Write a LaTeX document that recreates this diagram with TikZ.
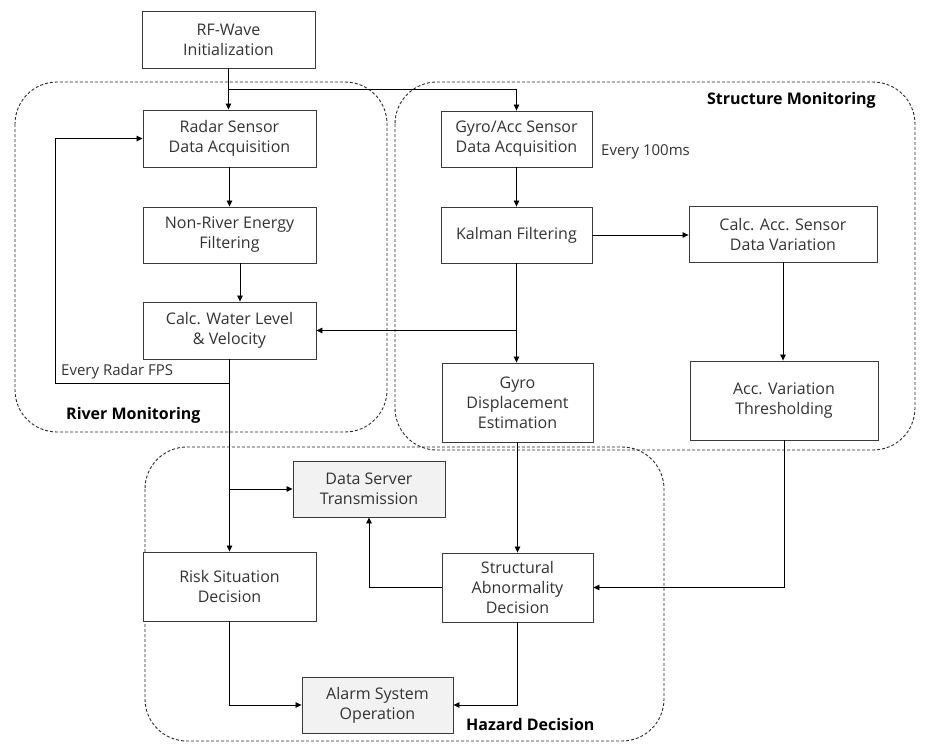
\documentclass[tikz,border=0pt]{standalone}
\usepackage{fontspec}
\setmainfont{Open Sans}
\usetikzlibrary{arrows.meta}
\definecolor{boxline}{HTML}{3A3A3A}
\definecolor{txt}{HTML}{333333}
\definecolor{grayfill}{HTML}{F2F2F2}
\definecolor{grpline}{HTML}{2A2A2A}
\tikzset{
  procbox/.style={draw=boxline, line width=0.9pt, fill=white, align=center, inner sep=0pt,
    text=txt, font=\fontsize{16}{20}\selectfont},
  outbox/.style={procbox, fill=grayfill},
  arr/.style={line width=0.8pt, draw=black, -{Triangle[length=6pt,width=5.5pt]}},
  grp/.style={draw=grpline, line width=0.9pt, dash pattern=on 3pt off 2pt, rounded corners=42pt},
  grplabel/.style={font=\fontsize{16}{18}\selectfont\bfseries, text=black, inner sep=0pt},
  note/.style={font=\fontsize{15}{17}\selectfont, text=txt, inner sep=0pt}
}
\begin{document}
\begin{tikzpicture}[x=1pt,y=-1pt]
\useasboundingbox (0,0) rectangle (930,752);
\fill[white] (0,0) rectangle (930,752);

% group containers
\draw[grp] (15,82) rectangle (387,432);
\draw[grp] (395,82) rectangle (915,450);
\draw[grp] (145,447) rectangle (664,741);

% boxes
\node[procbox, minimum width=173pt, minimum height=57pt] (rf) at (228.5,39.5) {RF-Wave\\Initialization};
\node[procbox, minimum width=173pt, minimum height=57pt] (radar) at (229.5,138.5) {Radar Sensor\\Data Acquisition};
\node[procbox, minimum width=173pt, minimum height=56pt] (nonriver) at (229.5,235) {Non-River Energy\\Filtering};
\node[procbox, minimum width=173pt, minimum height=57pt] (calcw) at (229.5,330.5) {Calc. Water Level\\\& Velocity};
\node[procbox, minimum width=151pt, minimum height=56pt] (gyro) at (516.5,139) {Gyro/Acc Sensor\\Data Acquisition};
\node[procbox, minimum width=151pt, minimum height=56pt] (kalman) at (516.5,235) {Kalman Filtering};
\node[procbox, minimum width=188pt, minimum height=56pt] (calcacc) at (783,234) {Calc. Acc. Sensor\\Data Variation};
\node[procbox, minimum width=151pt, minimum height=79pt] (gyrodisp) at (517.5,402.5) {Gyro\\Displacement\\Estimation};
\node[procbox, minimum width=188pt, minimum height=79pt] (accvar) at (784,400.5) {Acc. Variation\\Thresholding};
\node[outbox, minimum width=152pt, minimum height=56pt] (ds) at (369,489) {Data Server\\Transmission};
\node[procbox, minimum width=173pt, minimum height=69pt] (risk) at (229.5,586.5) {Risk Situation\\Decision};
\node[procbox, minimum width=151pt, minimum height=69pt] (structural) at (517.5,587.5) {Structural\\Abnormality\\Decision};
\node[outbox, minimum width=151pt, minimum height=56pt] (alarm) at (377.5,705) {Alarm System\\Operation};

% labels
\node[note, anchor=west] (lfps) at (61,372) {Every Radar FPS};
\node[note, anchor=west] (l100) at (601,152) {Every 100ms};
\node[grplabel, anchor=west] (lriver) at (66,415) {River Monitoring};
\node[grplabel, anchor=east] (lstruct) at (876,100) {Structure Monitoring};
\node[grplabel, anchor=west] (lhazard) at (466,724) {Hazard Decision};

% junction coordinates
\coordinate (j1) at (rf.south |- 0,89);
\coordinate (fb) at (calcw.south |- 0,383);
\coordinate (fbl) at (55,383);
\coordinate (j2) at (calcw.south |- ds.west);
\coordinate (j3) at (kalman.south |- calcw.east);

% connectors
\draw[arr] (rf.south) -- (rf.south |- radar.north);
\draw[arr] (j1) -| (gyro.north);
\draw[arr] (radar.south) -- (nonriver.north);
\draw[arr] ([xshift=10.5pt]nonriver.south) -- ([xshift=10.5pt]calcw.north);
\draw[arr] (calcw.south) -- (risk.north);
\draw[arr] (fb) -- (fbl) |- (radar.west);
\draw[arr] (j2) -- (ds.west);
\draw[arr] (gyro.south) -- (kalman.north);
\draw[arr] (kalman.east) -- (kalman.east -| calcacc.west);
\draw[arr] (kalman.south) -- (kalman.south |- gyrodisp.north);
\draw[arr] (j3) -- (calcw.east);
\draw[arr] (calcacc.south) -- (calcacc.south |- accvar.north);
\draw[arr] (gyrodisp.south) -- (structural.north);
\draw[arr] (accvar.south) |- (structural.east);
\draw[arr] (structural.west) -| (ds.south);
\draw[arr] (risk.south) |- (alarm.west);
\draw[arr] (structural.south) |- (alarm.east);
\end{tikzpicture}
\end{document}
